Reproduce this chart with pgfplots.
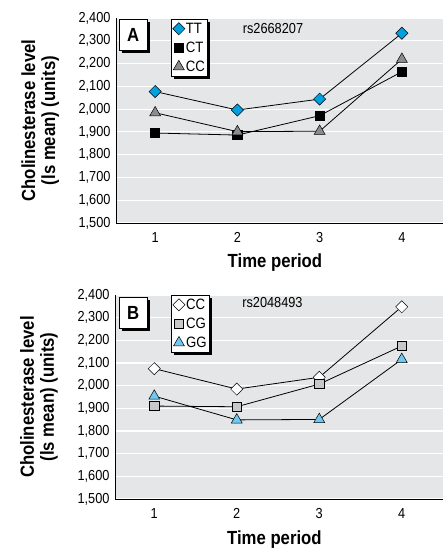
\documentclass[border=0pt]{standalone}
\usepackage{fontspec}
\setmainfont{Liberation Sans}[FakeStretch=0.88]
\usepackage{pgfplots}
\pgfplotsset{compat=1.18}
\usetikzlibrary{shadows}
\definecolor{bgc}{RGB}{229,230,232}
\definecolor{tt}{RGB}{0,160,225}
\definecolor{ccA}{RGB}{140,140,140}
\definecolor{cg}{RGB}{200,200,200}
\definecolor{gg}{RGB}{110,200,240}
\tikzset{
  boxlab/.style={draw=black, line width=0.6pt, fill=white, anchor=north west,
    minimum width=28pt, minimum height=31pt, inner sep=0pt,
    font=\bfseries\fontsize{19}{19}\selectfont,
    drop shadow={shadow xshift=2.5pt, shadow yshift=-2.5pt, fill=black, opacity=1}},
}
\pgfplotsset{
  panel/.style={
    scale only axis,
    width=327pt,
    xmin=0.524, xmax=4.5,
    ymin=1500, ymax=2400,
    xtick={1,2,3,4},
    ytick={1500,1600,...,2400},
    scaled ticks=false,
    /pgf/number format/1000 sep={,},
    /pgf/number format/assume math mode=true,
    tick label style={font=\fontsize{14.5}{14.5}\selectfont},
    yticklabel style={xshift=-2pt},
    xticklabel style={yshift=-6pt},
    major tick length=0pt,
    axis x line*=bottom,
    axis y line*=left,
    axis line style={-, black, line width=0.8pt},
    axis background/.style={fill=bgc},
    ymajorgrids,
    grid style={white, line width=1.2pt},
    clip=false,
    ylabel style={at={(rel axis cs:-0.232,0.5)}, anchor=center, align=center,
      font=\bfseries\fontsize{19}{20}\selectfont},
    ylabel={Cholinesterase level\\(ls mean) (units)},
    xlabel style={at={(rel axis cs:0.486,0)}, anchor=base, yshift=-45pt, inner sep=0pt,
      font=\bfseries\fontsize{19}{20}\selectfont},
    xlabel={Time period},
    legend cell align=left,
    legend image code/.code={\draw[#1, only marks, mark repeat=2, mark phase=2]
      plot coordinates {(0pt,0pt) (5.5pt,0pt) (11pt,0pt)};},
    legend style={draw=black, line width=0.6pt, fill=white, anchor=north west,
      font=\fontsize{15}{16}\selectfont, inner xsep=1.5pt, inner ysep=2.5pt,
      row sep=5pt, column sep=0pt, nodes={inner sep=1pt},
      drop shadow={shadow xshift=2.5pt, shadow yshift=-2.5pt, fill=black, opacity=1}},
    every axis plot/.append style={black, line width=0.8pt},
  },
}
\begin{document}
\begin{tikzpicture}
\useasboundingbox (0,0) rectangle (447pt,548pt);
% Panel A
\begin{axis}[panel, height=205pt, at={(116pt,325pt)}, anchor=south west,
  legend style={at={(rel axis cs:0.168,0.995)}}]
\addplot[mark=square*, mark options={rotate=45, fill=tt, draw=black, line width=0.5pt, mark size=4.3pt}]
  coordinates {(1,2077) (2,1996) (3,2044) (4,2333)};
\addlegendentry{TT}
\addplot[mark=square*, mark options={fill=black, draw=black, mark size=4.6pt}]
  coordinates {(1,1895) (2,1886) (3,1971) (4,2164)};
\addlegendentry{CT}
\addplot[mark=triangle*, mark options={fill=ccA, draw=black, line width=0.5pt, mark size=6.3pt}]
  coordinates {(1,1984) (2,1901) (3,1903) (4,2219)};
\addlegendentry{CC}
\node[boxlab] at (rel axis cs:0.009,0.995) {A};
\node[font=\fontsize{14.5}{14.5}\selectfont] at (rel axis cs:0.48,0.951) {rs2668207};
\end{axis}
% Panel B
\begin{axis}[panel, height=204pt, width=328pt, at={(115pt,49pt)}, anchor=south west,
  legend style={at={(rel axis cs:0.171,1.0)}}]
\addplot[mark=square*, mark options={rotate=45, fill=white, draw=black, line width=0.5pt, mark size=4.3pt}]
  coordinates {(1,2075) (2,1985) (3,2037) (4,2348)};
\addlegendentry{CC}
\addplot[mark=square*, mark options={fill=cg, draw=black, line width=0.5pt, mark size=4.6pt}]
  coordinates {(1,1910) (2,1907) (3,2007) (4,2175)};
\addlegendentry{CG}
\addplot[mark=triangle*, mark options={fill=gg, draw=black, line width=0.5pt, mark size=6.3pt}]
  coordinates {(1,1954) (2,1849) (3,1851) (4,2116)};
\addlegendentry{GG}
\node[boxlab] at (rel axis cs:0.012,0.99) {B};
\node[font=\fontsize{14.5}{14.5}\selectfont] at (rel axis cs:0.48,0.961) {rs2048493};
\end{axis}
\end{tikzpicture}
\end{document}
